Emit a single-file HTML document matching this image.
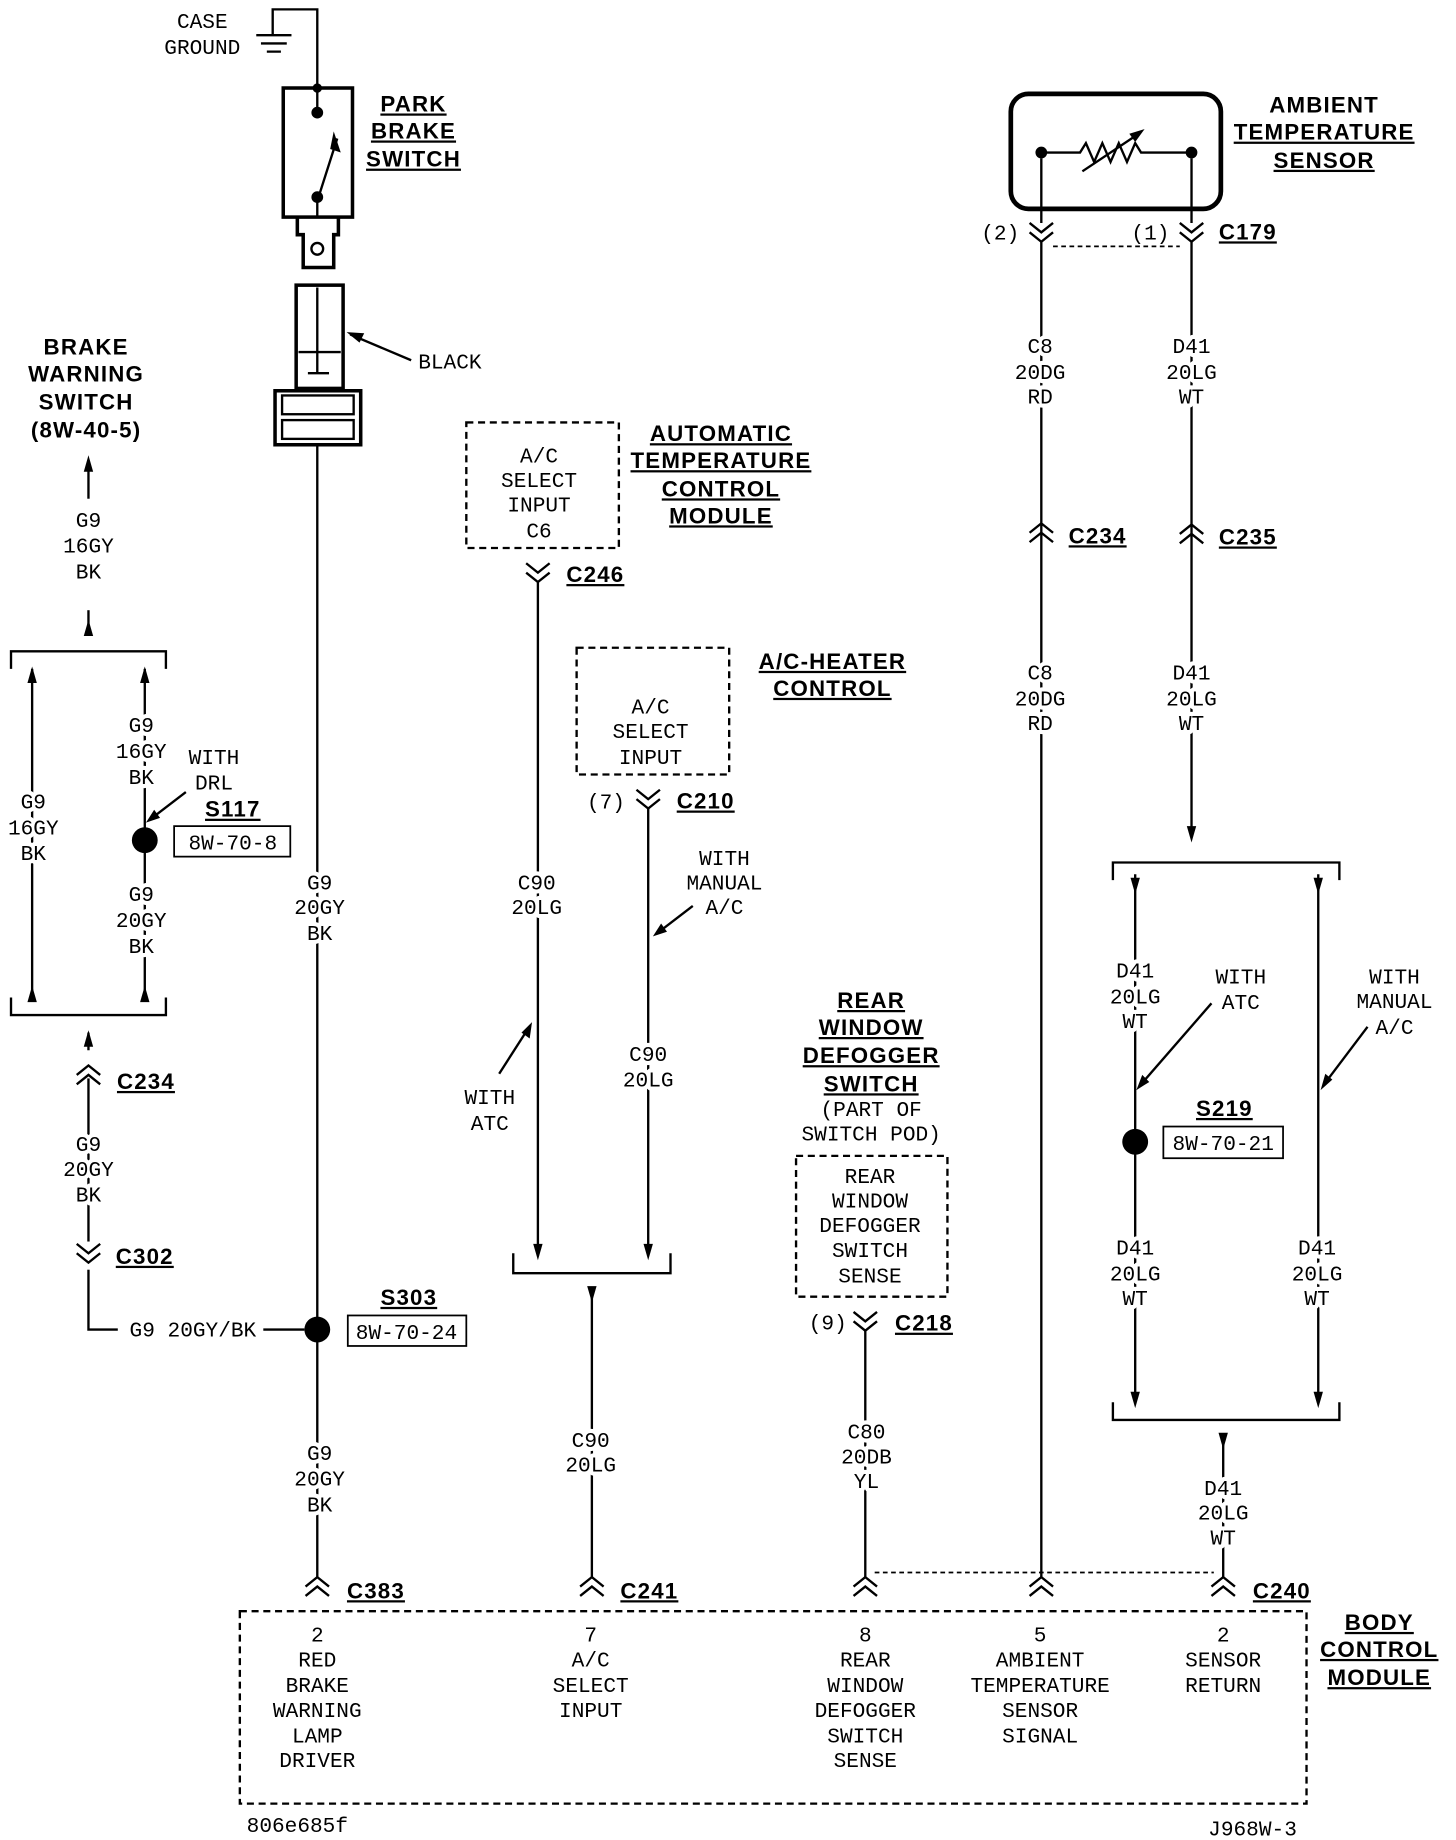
<!DOCTYPE html>
<html><head><meta charset="utf-8"><style>
html,body{margin:0;padding:0;background:#fff;}
svg{display:block}
.t{font-family:"Liberation Mono","DejaVu Sans Mono",monospace;font-size:18px;fill:#000;text-anchor:middle;stroke:#fff;stroke-width:7px;paint-order:stroke;stroke-linejoin:round}
.b{font-family:"Liberation Sans",sans-serif;font-weight:bold;font-size:19px;letter-spacing:1px;fill:#000;text-anchor:middle;text-decoration:underline}
.l{stroke:#000;stroke-width:2;fill:none}
.d{stroke:#000;stroke-width:2;fill:none;stroke-dasharray:6,4}
</style></head><body>
<svg width="1456" height="1840" viewBox="0 0 1240 1568" xmlns="http://www.w3.org/2000/svg">
<defs>
<g id="cd"><path class="l" d="M-10,-8 L0,0 L10,-8 M-10,0 L0,8 L10,0"/></g>
<g id="cu"><path class="l" d="M-10,8 L0,0 L10,8 M-10,16 L0,8 L10,16"/></g>
<path id="ad" d="M-4,-12 L0,2 L4,-12 Z"/>
<path id="au" d="M-4,12 L0,-2 L4,12 Z"/>
</defs>
<text class="t" x="172" y="24">CASE</text><text class="t" x="172" y="46">GROUND</text>
<path class="l" d="M232,30 V8 H270 V75"/>
<path class="l" d="M218,30 H248 M222,37 H244 M227,44 H239"/>
<rect x="241" y="75" width="59" height="110" class="l" style="stroke-width:3"/>
<circle cx="270" cy="75" r="4"/><circle cx="270" cy="96" r="5"/><circle cx="270" cy="168" r="5"/>
<path class="l" d="M270,75 V96 M270,168 V185 M272,165 L287,118"/>
<path d="M284,112 L290,130 L281,127 Z"/>
<path class="l" style="stroke-width:3" d="M253,185 V200 H258 V228 H284 V200 H288 V185"/>
<circle cx="270" cy="212" r="5" class="l"/>
<rect x="252" y="243" width="40" height="88" class="l" style="stroke-width:3"/>
<path class="l" d="M270,245 V318 M254,300 H290 M262,318 H280"/>
<rect x="234" y="333" width="73" height="46" class="l" style="stroke-width:3"/>
<rect x="240" y="337" width="61" height="16" class="l"/><rect x="240" y="358" width="61" height="16" class="l"/>
<path class="l" d="M350,307 L298,285"/><path d="M295,283 L310,284 L306,292 Z"/>
<text class="t" x="383" y="314">BLACK</text>
<text class="b" x="352" y="95">PARK</text><text class="b" x="352" y="118">BRAKE</text><text class="b" x="352" y="142">SWITCH</text>
<path class="l" d="M270,380 V1345"/>
<text class="t" x="272" y="758">G9</text><text class="t" x="272" y="779">20GY</text><text class="t" x="272" y="801">BK</text>
<circle cx="270" cy="1133" r="11"/>
<path class="l" d="M75,1080 V1133 H100 M224,1133 H259"/>
<text class="t" x="164" y="1139">G9 20GY/BK</text>
<text class="b" x="348" y="1112">S303</text>
<rect x="296" y="1121" width="101" height="26" class="l" style="stroke-width:1.5"/><text class="t" x="346" y="1141">8W-70-24</text>
<text class="t" x="272" y="1244">G9</text><text class="t" x="272" y="1266">20GY</text><text class="t" x="272" y="1288">BK</text>
<use href="#cu" x="270" y="1344"/><text class="b" x="320" y="1362">C383</text>
<text class="b" style="text-decoration:none" x="73" y="302">BRAKE</text><text class="b" style="text-decoration:none" x="73" y="325">WARNING</text>
<text class="b" style="text-decoration:none" x="73" y="349">SWITCH</text><text class="b" style="text-decoration:none" x="73" y="373">(8W-40-5)</text>
<path class="l" d="M75,392 V425"/><use href="#au" x="75" y="390"/>
<text class="t" x="75" y="449">G9</text><text class="t" x="75" y="471">16GY</text><text class="t" x="75" y="493">BK</text>
<path class="l" d="M75,520 V540"/><use href="#au" x="75" y="530"/>
<path class="l" d="M9,570 V555 H141 V570 M9,850 V865 H141 V850"/>
<path class="l" d="M27,570 V850 M123,570 V850"/>
<use href="#au" x="27" y="570"/><use href="#au" x="123" y="570"/><use href="#au" x="27" y="842"/><use href="#au" x="123" y="842"/>
<text class="t" x="28" y="689">G9</text><text class="t" x="28" y="711">16GY</text><text class="t" x="28" y="733">BK</text>
<text class="t" x="120" y="624">G9</text><text class="t" x="120" y="646">16GY</text><text class="t" x="120" y="668">BK</text>
<text class="t" x="182" y="651">WITH</text><text class="t" x="182" y="673">DRL</text>
<path class="l" d="M158,675 L128,698"/><path d="M124,701 L131,690 L136,697 Z"/>
<circle cx="123" cy="716" r="11"/>
<text class="b" x="198" y="696">S117</text>
<rect x="148" y="704" width="99" height="26" class="l" style="stroke-width:1.5"/><text class="t" x="198" y="724">8W-70-8</text>
<text class="t" x="120" y="768">G9</text><text class="t" x="120" y="790">20GY</text><text class="t" x="120" y="812">BK</text>
<path class="l" d="M75,880 V1080"/><use href="#au" x="75" y="880"/>
<rect x="62" y="895" width="26" height="24" fill="#fff"/>
<use href="#cu" x="75" y="908"/><text class="b" x="124" y="928">C234</text>
<text class="t" x="75" y="981">G9</text><text class="t" x="75" y="1002">20GY</text><text class="t" x="75" y="1024">BK</text>
<rect x="62" y="1058" width="26" height="24" fill="#fff"/>
<use href="#cd" x="75" y="1068"/><text class="b" x="123" y="1077">C302</text>
<rect x="397" y="360" width="130" height="107" class="d"/>
<text class="t" x="459" y="394">A/C</text><text class="t" x="459" y="415">SELECT</text><text class="t" x="459" y="436">INPUT</text><text class="t" x="459" y="458">C6</text>
<text class="b" x="614" y="376">AUTOMATIC</text><text class="b" x="614" y="399">TEMPERATURE</text><text class="b" x="614" y="423">CONTROL</text><text class="b" x="614" y="446">MODULE</text>
<use href="#cd" x="458" y="488"/><text class="b" x="507" y="496">C246</text>
<path class="l" d="M458,496 V1070"/><use href="#ad" x="458" y="1072"/>
<text class="t" x="457" y="758">C90</text><text class="t" x="457" y="779">20LG</text>
<path class="l" d="M425,915 L450,876"/><path d="M453,871 L451,885 L444,880 Z"/>
<text class="t" x="417" y="941">WITH</text><text class="t" x="417" y="963">ATC</text>
<rect x="491" y="552" width="130" height="108" class="d"/>
<text class="t" x="554" y="608">A/C</text><text class="t" x="554" y="629">SELECT</text><text class="t" x="554" y="651">INPUT</text>
<text class="b" x="709" y="570">A/C-HEATER</text><text class="b" x="709" y="593">CONTROL</text>
<text class="t" x="516" y="689">(7)</text><use href="#cd" x="552" y="681"/><text class="b" x="601" y="689">C210</text>
<path class="l" d="M552,689 V1070"/><use href="#ad" x="552" y="1072"/>
<text class="t" x="617" y="737">WITH</text><text class="t" x="617" y="758">MANUAL</text><text class="t" x="617" y="779">A/C</text>
<path class="l" d="M590,772 L560,795"/><path d="M556,798 L563,787 L568,794 Z"/>
<text class="t" x="552" y="904">C90</text><text class="t" x="552" y="926">20LG</text>
<path class="l" d="M437,1068 V1085 H571 V1068"/>
<path class="l" d="M504,1100 V1345"/><use href="#ad" x="504" y="1108"/>
<text class="t" x="503" y="1233">C90</text><text class="t" x="503" y="1254">20LG</text>
<use href="#cu" x="504" y="1344"/><text class="b" x="553" y="1362">C241</text>
<text class="b" x="742" y="859">REAR</text><text class="b" x="742" y="882">WINDOW</text><text class="b" x="742" y="906">DEFOGGER</text><text class="b" x="742" y="930">SWITCH</text>
<text class="t" x="742" y="951">(PART OF</text><text class="t" x="742" y="972">SWITCH POD)</text>
<rect x="678" y="985" width="129" height="120" class="d"/>
<text class="t" x="741" y="1008">REAR</text><text class="t" x="741" y="1029">WINDOW</text><text class="t" x="741" y="1050">DEFOGGER</text><text class="t" x="741" y="1071">SWITCH</text><text class="t" x="741" y="1093">SENSE</text>
<text class="t" x="705" y="1133">(9)</text><use href="#cd" x="737" y="1126"/><text class="b" x="787" y="1134">C218</text>
<path class="l" d="M737,1134 V1345"/>
<text class="t" x="738" y="1226">C80</text><text class="t" x="738" y="1247">20DB</text><text class="t" x="738" y="1268">YL</text>
<use href="#cu" x="737" y="1344"/>
<rect x="861" y="80" width="179" height="98" rx="15" class="l" style="stroke-width:4"/>
<circle cx="887" cy="130" r="5"/><circle cx="1015" cy="130" r="5"/>
<path class="l" d="M887,130 H920 L925,122 L932,138 L939,122 L946,138 L953,122 L960,138 L967,122 L972,130 H1015"/>
<path class="l" d="M922,146 L970,114"/><path d="M975,110 L962,114 L967,121 Z"/>
<text class="b" style="text-decoration:none" x="1128" y="96">AMBIENT</text><text class="b" x="1128" y="119">TEMPERATURE</text><text class="b" x="1128" y="143">SENSOR</text>
<path class="l" d="M887,135 V190 M1015,135 V190"/>
<text class="t" x="852" y="204">(2)</text><use href="#cd" x="887" y="198"/>
<text class="t" x="980" y="204">(1)</text><use href="#cd" x="1015" y="198"/>
<text class="b" x="1063" y="204">C179</text>
<path class="d" d="M897,210 H1005" style="stroke-dasharray:4,3;stroke-width:1.5"/>
<path class="l" d="M887,206 V1345 M1015,206 V705"/><use href="#ad" x="1015" y="716"/>
<text class="t" x="886" y="301">C8</text><text class="t" x="886" y="323">20DG</text><text class="t" x="886" y="344">RD</text>
<text class="t" x="1015" y="301">D41</text><text class="t" x="1015" y="323">20LG</text><text class="t" x="1015" y="344">WT</text>
<use href="#cu" x="887" y="446"/><text class="b" x="935" y="463">C234</text>
<use href="#cu" x="1015" y="447"/><text class="b" x="1063" y="464">C235</text>
<text class="t" x="886" y="579">C8</text><text class="t" x="886" y="601">20DG</text><text class="t" x="886" y="622">RD</text>
<text class="t" x="1015" y="579">D41</text><text class="t" x="1015" y="601">20LG</text><text class="t" x="1015" y="622">WT</text>
<path class="l" d="M948,750 V735 H1141 V750 M948,1195 V1210 H1141 V1195"/>
<path class="l" d="M967,745 V1195 M1123,745 V1195"/>
<use href="#ad" x="967" y="760"/><use href="#ad" x="1123" y="760"/><use href="#ad" x="967" y="1198"/><use href="#ad" x="1123" y="1198"/>
<text class="t" x="967" y="833">D41</text><text class="t" x="967" y="855">20LG</text><text class="t" x="967" y="876">WT</text>
<text class="t" x="1057" y="838">WITH</text><text class="t" x="1057" y="860">ATC</text>
<path class="l" d="M1032,855 L972,924"/><path d="M968,929 L973,916 L979,922 Z"/>
<circle cx="967" cy="973" r="11"/>
<text class="b" x="1043" y="951">S219</text>
<rect x="991" y="960" width="102" height="27" class="l" style="stroke-width:1.5"/><text class="t" x="1042" y="980">8W-70-21</text>
<text class="t" x="967" y="1069">D41</text><text class="t" x="967" y="1091">20LG</text><text class="t" x="967" y="1112">WT</text>
<text class="t" x="1122" y="1069">D41</text><text class="t" x="1122" y="1091">20LG</text><text class="t" x="1122" y="1112">WT</text>
<text class="t" x="1188" y="838">WITH</text><text class="t" x="1188" y="859">MANUAL</text><text class="t" x="1188" y="881">A/C</text>
<path class="l" d="M1165,875 L1128,924"/><path d="M1125,929 L1129,915 L1135,920 Z"/>
<path class="l" d="M1042,1225 V1345"/><use href="#ad" x="1042" y="1233"/>
<text class="t" x="1042" y="1274">D41</text><text class="t" x="1042" y="1295">20LG</text><text class="t" x="1042" y="1316">WT</text>
<use href="#cu" x="1042" y="1344"/><text class="b" x="1092" y="1362">C240</text>
<use href="#cu" x="887" y="1344"/>
<path class="d" d="M745,1340 H1034" style="stroke-dasharray:4,3;stroke-width:1.5"/>
<rect x="204" y="1373" width="909" height="164" class="d"/>
<g>
<text class="t" x="270" y="1399">2</text><text class="t" x="270" y="1420">RED</text><text class="t" x="270" y="1442">BRAKE</text><text class="t" x="270" y="1463">WARNING</text><text class="t" x="270" y="1485">LAMP</text><text class="t" x="270" y="1506">DRIVER</text>
<text class="t" x="503" y="1399">7</text><text class="t" x="503" y="1420">A/C</text><text class="t" x="503" y="1442">SELECT</text><text class="t" x="503" y="1463">INPUT</text>
<text class="t" x="737" y="1399">8</text><text class="t" x="737" y="1420">REAR</text><text class="t" x="737" y="1442">WINDOW</text><text class="t" x="737" y="1463">DEFOGGER</text><text class="t" x="737" y="1485">SWITCH</text><text class="t" x="737" y="1506">SENSE</text>
<text class="t" x="886" y="1399">5</text><text class="t" x="886" y="1420">AMBIENT</text><text class="t" x="886" y="1442">TEMPERATURE</text><text class="t" x="886" y="1463">SENSOR</text><text class="t" x="886" y="1485">SIGNAL</text>
<text class="t" x="1042" y="1399">2</text><text class="t" x="1042" y="1420">SENSOR</text><text class="t" x="1042" y="1442">RETURN</text>
</g>
<text class="b" x="1175" y="1389">BODY</text><text class="b" x="1175" y="1412">CONTROL</text><text class="b" x="1175" y="1436">MODULE</text>
<text class="t" x="253" y="1561">806e685f</text><text class="t" x="1067" y="1564">J968W-3</text>
</svg>
</body></html>
